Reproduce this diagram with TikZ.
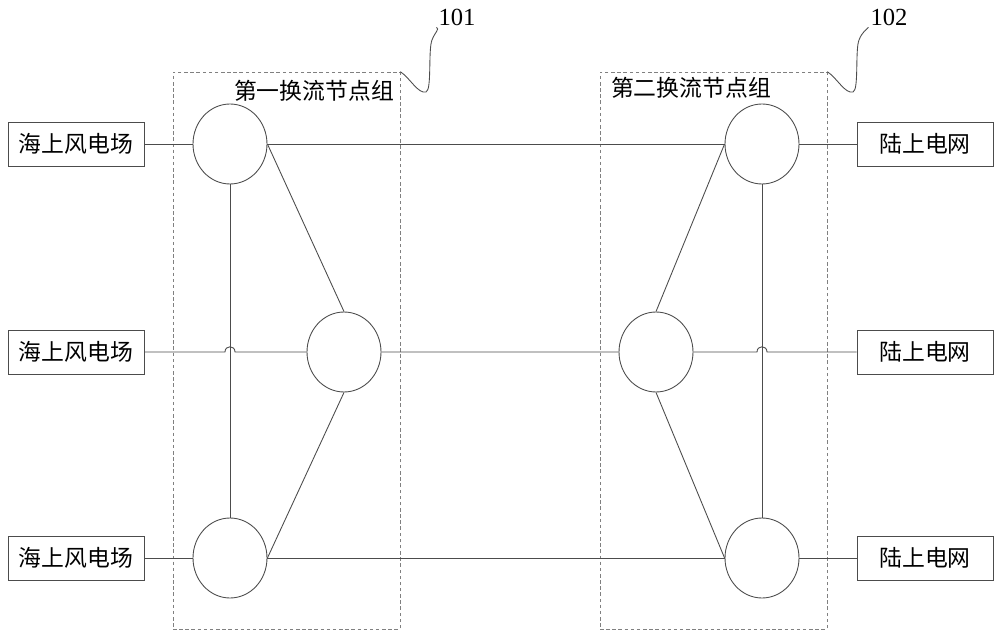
\documentclass[tikz,border=0pt]{standalone}
\usepackage{fontspec}
\setmainfont{Liberation Serif}
\newfontfamily\cjk{Noto Sans CJK SC}
\usetikzlibrary{shapes.geometric}

\begin{document}
\begin{tikzpicture}[
    x=0.02cm, y=-0.02cm,
    every node/.style={font=\cjk\fontsize{13}{15}\selectfont},
    line/.style={draw=black!70, line width=0.5pt},
    box/.style={line, rectangle, minimum width=2.72cm, minimum height=0.88cm, inner sep=0pt},
    station/.style={line, ellipse, minimum width=1.48cm, minimum height=1.6cm, inner sep=0pt},
    group/.style={draw=black!50, dash pattern=on 2pt off 1.5pt, minimum width=4.54cm, minimum height=11.14cm, inner sep=0pt},
    num/.style={font=\fontsize{14}{16}\selectfont, inner sep=1pt}
]
\useasboundingbox (0,0) rectangle (1000,638);

% 换流节点组
\node[group] (grp1) at (286.5,350.5) {};
\node[group] (grp2) at (713.5,350.5) {};
\node (lab1) at (314,91) {第一换流节点组};
\node (lab2) at (691,88) {第二换流节点组};
\node[num] (n101) at (457,17) {101};
\node[num] (n102) at (889,17) {102};

% 两端
\node[box] (wf1) at (76,144) {海上风电场};
\node[box] (wf2) at (76,352) {海上风电场};
\node[box] (wf3) at (76,558) {海上风电场};
\node[box] (grid1) at (925,144) {陆上电网};
\node[box] (grid2) at (925,352) {陆上电网};
\node[box] (grid3) at (925,558) {陆上电网};

% 换流站
\node[station] (a1) at (230,144) {};
\node[station] (a2) at (344,352) {};
\node[station] (a3) at (230,558) {};
\node[station] (b1) at (762,144) {};
\node[station] (b2) at (656,352) {};
\node[station] (b3) at (762,558) {};

% 横向线路
\draw[line] (wf1) -- (a1) -- (b1) -- (grid1);
\draw[line] (wf2) -- ([xshift=-0.1cm]a1 |- a2) .. controls +(0,-7) and +(0,-7) .. ([xshift=0.1cm]a1 |- a2) -- (a2) -- (b2)
    -- ([xshift=-0.1cm]b1 |- b2) .. controls +(0,-7) and +(0,-7) .. ([xshift=0.1cm]b1 |- b2) -- (grid2);
\draw[line] (wf3) -- (a3) -- (b3) -- (grid3);

% 组内连接
\draw[line] (a1) -- (a3);
\draw[line] (b1) -- (b3);
\draw[line] (a1.east) -- (a2.north);
\draw[line] (a2.south) -- (a3.east);
\draw[line] (b1.west) -- (b2.north);
\draw[line] (b2.south) -- (b3.west);

% 引线
\draw[line] (grp1.north east) .. controls (410,78) and (418,94) .. (426,92)
    .. controls (432,90) and (428,50) .. (432,40) .. controls (435,32) and (440,29) .. (n101.south west);
\draw[line] (grp2.north east) .. controls (837,78) and (845,94) .. (853,92)
    .. controls (859,90) and (855,50) .. (859,40) .. controls (862,32) and (867,29) .. (n102.south west);

\end{tikzpicture}
\end{document}
